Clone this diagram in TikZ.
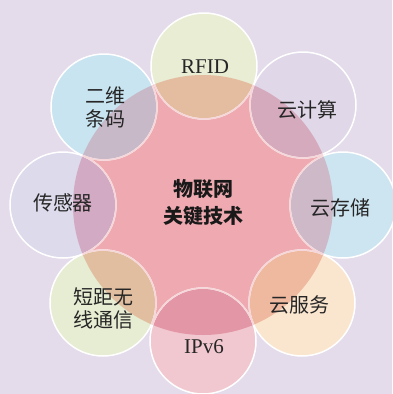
\documentclass[tikz,border=0pt]{standalone}
\usepackage{fontspec}
\setmainfont{Liberation Serif}
\newfontfamily\cjk{Noto Sans CJK SC}
\definecolor{bgc}{HTML}{E4DBEB}
\definecolor{hubc}{HTML}{EFAAB1}
\definecolor{cRfid}{HTML}{E8EDD3}
\definecolor{oRfid}{HTML}{E4BCA0}
\definecolor{cCalc}{HTML}{E0D8E8}
\definecolor{oCalc}{HTML}{D6AABD}
\definecolor{cStore}{HTML}{CDE5F0}
\definecolor{oStore}{HTML}{CDB9C8}
\definecolor{cServ}{HTML}{FAE6CF}
\definecolor{oServ}{HTML}{EFB9A0}
\definecolor{cIp}{HTML}{F2C8D0}
\definecolor{oIp}{HTML}{E396A5}
\definecolor{cShort}{HTML}{E6EDD2}
\definecolor{oShort}{HTML}{E2BEA0}
\definecolor{cSens}{HTML}{DCDAEB}
\definecolor{oSens}{HTML}{D2AAC3}
\definecolor{cCode}{HTML}{C8E4F0}
\definecolor{oCode}{HTML}{C8B9C8}
\definecolor{rimin}{HTML}{F5D6D9}
\begin{document}
\begin{tikzpicture}[x=1pt,y=-1pt,
  hubnode/.style={circle,minimum size=260pt,inner sep=0pt,fill=hubc},
  satnode/.style={circle,minimum size=106pt,inner sep=0pt},
  rim/.style={line width=1.5pt},
  cjklabel/.style={font=\cjk\fontsize{20}{23}\selectfont,align=center,text=black!85},
  latlabel/.style={font=\fontsize{21}{24}\selectfont,text=black!85},
  hublabel/.style={font=\cjk\bfseries\fontsize{20}{27}\selectfont,align=center,text=black!90}]
\fill[bgc] (0,0) rectangle (392,394);
\useasboundingbox (0,0) rectangle (392,394);
\node[hubnode] (hub) at (203,205) {};
\node[satnode,fill=cRfid] (rfid) at (204,66) {};
\node[satnode,fill=cCalc] (calc) at (303,105) {};
\node[satnode,fill=cStore] (store) at (343,205) {};
\node[satnode,fill=cServ] (serv) at (302,303) {};
\node[satnode,fill=cIp] (ip) at (203,341) {};
\node[satnode,fill=cShort] (short) at (103,303) {};
\node[satnode,fill=cSens] (sens) at (63,205) {};
\node[satnode,fill=cCode] (code) at (104,107) {};
\begin{scope}
  \clip (hub.center) circle (130pt);
  \fill[oRfid] (rfid.center) circle (53pt);
  \fill[oCalc] (calc.center) circle (53pt);
  \fill[oStore] (store.center) circle (53pt);
  \fill[oServ] (serv.center) circle (53pt);
  \fill[oIp] (ip.center) circle (53pt);
  \fill[oShort] (short.center) circle (53pt);
  \fill[oSens] (sens.center) circle (53pt);
  \fill[oCode] (code.center) circle (53pt);
\end{scope}
\foreach \n in {rfid,calc,store,serv,ip,short,sens,code}
  \draw[rim,white] (\n.center) circle (53pt);
\begin{scope}
  \clip (hub.center) circle (130pt);
  \foreach \n in {rfid,calc,store,serv,ip,short,sens,code}
    \draw[rim,rimin] (\n.center) circle (53pt);
\end{scope}
\node[hublabel] (hubtext) at (203,203) {物联网\\关键技术};
\node[latlabel] (trfid) at (205,67) {RFID};
\node[cjklabel] (tcalc) at (307,110) {云计算};
\node[cjklabel] (tstore) at (340,208) {云存储};
\node[cjklabel] (tserv) at (299,305) {云服务};
\node[latlabel] (tip) at (204,347) {IPv6};
\node[cjklabel] (tshort) at (103,308) {短距无\\线通信};
\node[cjklabel] (tsens) at (63,203) {传感器};
\node[cjklabel] (tcode) at (105,107) {二维\\条码};
\end{tikzpicture}
\end{document}
